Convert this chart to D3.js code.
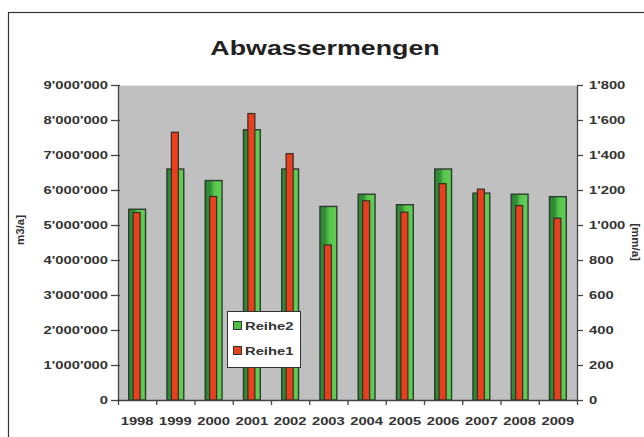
<!DOCTYPE html>
<html><head><meta charset="utf-8">
<script src="https://cdn.jsdelivr.net/npm/d3@7"></script>
<style>body{margin:0;background:#fff;}svg{display:block;}text{font-family:"Liberation Sans",Arial,sans-serif;}</style>
</head><body><svg id="c" width="644" height="437"></svg>
<script>
const years = ["1998","1999","2000","2001","2002","2003","2004","2005","2006","2007","2008","2009"];
const reihe2 = [5450000,6600000,6270000,7720000,6600000,5530000,5880000,5580000,6600000,5910000,5880000,5810000]; // m3/a (left axis)
const reihe1 = [1071,1530,1163,1637,1408,886,1138,1073,1236,1205,1111,1039]; // mm/a (right axis)
const leftTicks = [0,1000000,2000000,3000000,4000000,5000000,6000000,7000000,8000000,9000000];
const rightTicks = [0,200,400,600,800,1000,1200,1400,1600,1800];
const title = "Abwassermengen";
const leftLabel = "m3/a]";
const rightLabel = "[mm/a]";

const svg = d3.select("#c");
const m = {l:118, r:577, t:85, b:400};
const fmt = v => String(v).replace(/\B(?=(\d{3})+(?!\d))/g, "'");

svg.append("rect").attr("x",8.5).attr("y",12.5).attr("width",700).attr("height",500)
  .attr("fill","#fff").attr("stroke","#333").attr("stroke-width",1.2);

const defs = svg.append("defs");
const g1 = defs.append("linearGradient").attr("id","gg").attr("x1","0").attr("x2","1").attr("y1","0").attr("y2","0");
[[0,"#2c8532"],[0.3,"#2f8f36"],[0.55,"#58c64c"],[1,"#5fcf52"]].forEach(s=>g1.append("stop").attr("offset",s[0]).attr("stop-color",s[1]));

const x = d3.scaleBand().domain(years).range([m.l,m.r]).paddingInner(0.56).paddingOuter(0.28);
const yL = d3.scaleLinear().domain([0,9000000]).range([m.b,m.t]);
const yR = d3.scaleLinear().domain([0,1800]).range([m.b,m.t]);

svg.append("rect").attr("x",m.l).attr("y",m.t).attr("width",m.r-m.l).attr("height",m.b-m.t).attr("fill","#c0c0c0");
svg.append("line").attr("x1",m.l).attr("x2",m.r).attr("y1",m.t+0.5).attr("y2",m.t+0.5).attr("stroke","#e4e4e4");

// green bars
svg.append("g").selectAll("rect").data(years).join("rect")
  .attr("x",d=>x(d)).attr("width",x.bandwidth())
  .attr("y",(d,i)=>yL(reihe2[i])).attr("height",(d,i)=>m.b-yL(reihe2[i]))
  .attr("fill","url(#gg)").attr("stroke","#2f3a30").attr("stroke-width",1.4);
// red bars
const rw = 7;
svg.append("g").selectAll("rect").data(years).join("rect")
  .attr("x",d=>x(d)+x.bandwidth()/2-rw/2-0.5).attr("width",rw)
  .attr("y",(d,i)=>yR(reihe1[i])).attr("height",(d,i)=>m.b-yR(reihe1[i]))
  .attr("fill","#e8401e").attr("stroke","#3a2a26").attr("stroke-width",1.2);

// axes
const axL = svg.append("g").attr("transform",`translate(${m.l},0)`)
  .call(d3.axisLeft(yL).tickValues(leftTicks).tickFormat(fmt).tickSizeInner(7).tickSizeOuter(0).tickPadding(3));
const axR = svg.append("g").attr("transform",`translate(${m.r},0)`)
  .call(d3.axisRight(yR).tickValues(rightTicks).tickFormat(fmt).tickSizeInner(6).tickSizeOuter(0).tickPadding(6));
const xb = d3.scaleLinear().domain([0,years.length]).range([m.l,m.r]);
const axX = svg.append("g").attr("transform",`translate(0,${m.b})`)
  .call(d3.axisBottom(xb).tickValues(d3.range(0,years.length+1)).tickFormat("").tickSizeInner(5).tickSizeOuter(0));
svg.append("g").attr("class","st").selectAll("text").data(years).join("text")
  .attr("x",d=>x(d)+x.bandwidth()/2).attr("y",425).attr("text-anchor","middle")
  .attr("font-size",11).attr("font-weight","bold").attr("fill","#333").text(d=>d);
[axL,axR,axX].forEach(a=>{
  a.attr("class","st");
  a.selectAll("path,line").attr("stroke","#444").attr("stroke-width",1.3);
  a.selectAll("text").attr("font-size",11).attr("font-weight","bold").attr("fill","#333");
});
axL.selectAll("line").attr("x1",2);

svg.append("text").attr("class","st1").attr("x",325).attr("y",55).attr("text-anchor","middle")
  .attr("font-size",20).attr("font-weight","bold").attr("fill","#222").text(title);
svg.append("text").attr("transform","translate(24,230) rotate(-90)").attr("text-anchor","middle")
  .attr("font-size",11.5).attr("font-weight","bold").attr("fill","#333").text(leftLabel);
svg.append("text").attr("transform","translate(632,242) rotate(90)").attr("text-anchor","middle")
  .attr("font-size",11.5).attr("font-weight","bold").attr("fill","#333").text(rightLabel);

// legend
const lg = svg.append("g").attr("class","st");
lg.append("rect").attr("x",227.5).attr("y",311.5).attr("width",73).attr("height",56)
  .attr("fill","#fff").attr("stroke","#333").attr("stroke-width",1);
const leg = [["Reihe2","#4fc046"],["Reihe1","#e8401e"]];
leg.forEach((d,i)=>{
  lg.append("rect").attr("x",233.5).attr("y",321.5+i*25).attr("width",8).attr("height",8)
    .attr("fill",d[1]).attr("stroke","#333").attr("stroke-width",1);
  lg.append("text").attr("x",245).attr("y",330+i*25).attr("font-size",11).attr("font-weight","bold").attr("fill","#333").text(d[0]);
});

// horizontal stretch of text to match reference proportions
svg.selectAll(".st text, text.st1").each(function(){
  const len = this.getComputedTextLength();
  if (len > 0) d3.select(this).attr("textLength", len*1.34).attr("lengthAdjust","spacingAndGlyphs");
});
</script></body></html>
